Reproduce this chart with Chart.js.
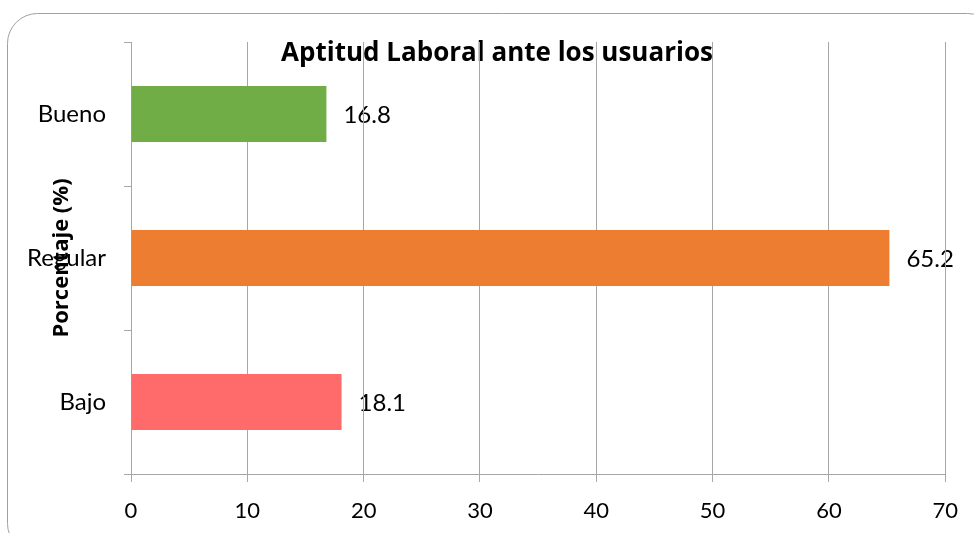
<!DOCTYPE html>
<html>
<head>
<meta charset="utf-8">
<script src="https://cdn.jsdelivr.net/npm/chart.js@4"></script>
<style>
  html, body { margin: 0; padding: 0; background: #fff; }
  #wrap { width: 974px; height: 533px; }
</style>
</head>
<body>
<div id="wrap"><canvas id="barChart" width="974" height="533"></canvas></div>
<script>
// Data
const categories = ["Bueno", "Regular", "Bajo"];
const percentages = [16.8, 65.2, 18.1];
const barColors = ["#70AD47", "#ED7D31", "#FF6B6B"];
const xTicks = [0, 10, 20, 30, 40, 50, 60, 70];

const chartTitle = "Aptitud Laboral ante los usuarios";
const yTitle = "Porcentaje (%)";

const FONT = "Lato, 'Open Sans', sans-serif";
const TITLE_FONT = "'Open Sans', Lato, sans-serif";
const gridGrey = "#a6a6a6";

// Draws the frame, titles and value labels before the scales,
// so the grid lines end up over the text like in the original
const underlayPlugin = {
    id: "underlay",
    beforeDraw(chart) {
        const ctx = chart.ctx;
        ctx.save();

        // rounded frame, runs off the right and bottom edges
        ctx.strokeStyle = "#a0a0a0";
        ctx.lineWidth = 1;
        ctx.beginPath();
        ctx.roundRect(7.5, 13.5, 990, 540, 30);
        ctx.stroke();

        ctx.fillStyle = "#000";
        ctx.font = "bold 26px " + TITLE_FONT;
        ctx.textAlign = "center";
        ctx.textBaseline = "middle";
        ctx.fillText(chartTitle, 497, 54);

        // value labels to the right of each bar
        ctx.font = "24px " + FONT;
        ctx.textAlign = "left";
        const meta = chart.getDatasetMeta(0);
        meta.data.forEach((bar, i) => {
            ctx.fillText(String(percentages[i]), bar.x + 17, bar.y + 1);
        });
        ctx.restore();
    },
    afterDraw(chart) {
        const ctx = chart.ctx;
        ctx.save();
        ctx.fillStyle = "#000";
        ctx.font = "bold 22px " + TITLE_FONT;
        ctx.textAlign = "center";
        ctx.textBaseline = "middle";
        ctx.translate(62, (chart.chartArea.top + chart.chartArea.bottom) / 2);
        ctx.rotate(-Math.PI / 2);
        ctx.fillText(yTitle, 0, 0);
        ctx.restore();
    }
};

const chart = new Chart(document.getElementById("barChart").getContext("2d"), {
    type: "bar",
    data: {
        labels: categories,
        datasets: [{
            data: percentages,
            backgroundColor: barColors,
            categoryPercentage: 1,
            barPercentage: 0.39
        }]
    },
    options: {
        indexAxis: "y",
        responsive: false,
        animation: false,
        layout: {
            padding: { left: 0, top: 42, right: 27, bottom: 0 }
        },
        plugins: {
            legend: { display: false },
            title: { display: false },
            tooltip: { enabled: false }
        },
        scales: {
            x: {
                min: 0,
                max: 70,
                afterBuildTicks(scale) {
                    scale.ticks = xTicks.map(v => ({ value: v }));
                },
                afterFit(scale) { scale.height = 59; },
                grid: { color: gridGrey, tickLength: 8 },
                border: { color: gridGrey },
                ticks: {
                    color: "#000",
                    font: { family: FONT, size: 22 },
                    padding: 16,
                    maxRotation: 0
                }
            },
            y: {
                afterFit(scale) { scale.width = 131; },
                grid: {
                    offset: true,
                    drawOnChartArea: false,
                    color: gridGrey,
                    tickLength: 7
                },
                border: { color: gridGrey },
                ticks: {
                    color: "#000",
                    font: { family: FONT, size: 24 },
                    padding: 18
                }
            }
        }
    },
    plugins: [underlayPlugin]
});
</script>
</body>
</html>
